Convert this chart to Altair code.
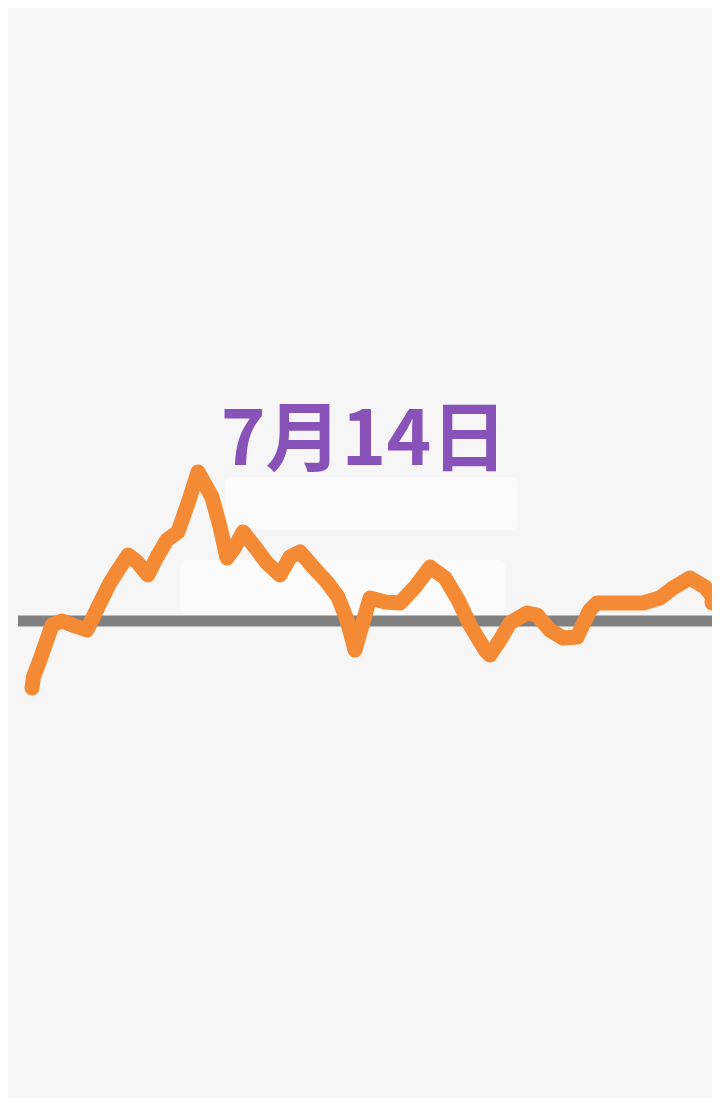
import altair as alt
import pandas as pd

# Intraday minutes since open and percent change vs previous close
minutes = [0, 0.5, 2.8, 7.1, 10.6, 15.2, 19.4, 23.3, 27.5, 31.1, 33.9, 37.1, 40.9,
           44.1, 47.6, 51.5, 55.1, 58.6, 63.5, 66.4, 68.8, 71.6, 74.5, 78.7, 82.9,
           87.5, 91.1, 94.6, 99.2, 104.1, 108.0, 111.2, 114.0, 119.3, 124.6, 129.9,
           135.2, 140.5, 145.8, 150.4, 154.6, 159.9, 161.6, 165.2, 168.7, 174.7,
           178.2, 182.8, 187.4, 192.4, 196.9, 199.4, 207.5, 215.6, 221.6, 226.2,
           232.2, 237.5, 240.3, 240.0]
change = [-1.34, -1.12, -0.78, -0.08, 0.00, -0.10, -0.18, 0.28, 0.76, 1.08, 1.32, 1.18,
          0.92, 1.28, 1.62, 1.78, 2.36, 2.98, 2.48, 1.88, 1.26, 1.48, 1.78, 1.48, 1.16,
          0.92, 1.28, 1.38, 1.08, 0.78, 0.48, 0.02, -0.58, 0.46, 0.38, 0.36, 0.68, 1.08,
          0.86, 0.42, -0.08, -0.58, -0.68, -0.38, -0.04, 0.16, 0.12, -0.18, -0.34, -0.32,
          0.22, 0.36, 0.36, 0.36, 0.46, 0.66, 0.86, 0.68, 0.48, 0.36]
title_text = "7月14日"
baseline_value = 0.0

df = pd.DataFrame({"t": minutes, "v": change, "i": list(range(len(minutes)))})

W, H = 704, 1090
xs = alt.Scale(domain=[-8.47, 240], nice=False, zero=False)
ys = alt.Scale(domain=[-9.54, 12.26], nice=False, zero=False)

one = pd.DataFrame({"k": [0]})

box1 = alt.Chart(one).mark_rect(fill="#ffffff", opacity=0.55, cornerRadius=6).encode(
    x=alt.value(217), x2=alt.value(509), y=alt.value(469), y2=alt.value(522))
box2 = alt.Chart(one).mark_rect(fill="#ffffff", opacity=0.55, cornerRadius=6).encode(
    x=alt.value(172), x2=alt.value(497), y=alt.value(552), y2=alt.value(607))

rule = alt.Chart(pd.DataFrame({"b": [baseline_value]})).mark_rule(
    color="#808080", strokeWidth=11).encode(
    y=alt.Y("b:Q", scale=ys, axis=None),
    x=alt.value(10), x2=alt.value(W))

line = alt.Chart(df).mark_line(
    color="#f58a35", strokeWidth=15, strokeCap="round", strokeJoin="round").encode(
    x=alt.X("t:Q", scale=xs, axis=None),
    y=alt.Y("v:Q", scale=ys, axis=None),
    order=alt.Order("i:Q"))

title = alt.Chart(one).mark_text(
    text=title_text, font="Noto Sans CJK SC", fontWeight="bold", fontSize=76,
    color="#8852b9", align="center", baseline="alphabetic").encode(
    x=alt.value(356), y=alt.value(457))

chart = alt.layer(box1, box2, rule, line, title).properties(
    width=W, height=H, background="#f6f6f6", padding=0,
    autosize=alt.AutoSizeParams(type="none")
).configure_view(stroke=None)

chart.save("out.html", embed_options={"renderer": "svg", "actions": False})
